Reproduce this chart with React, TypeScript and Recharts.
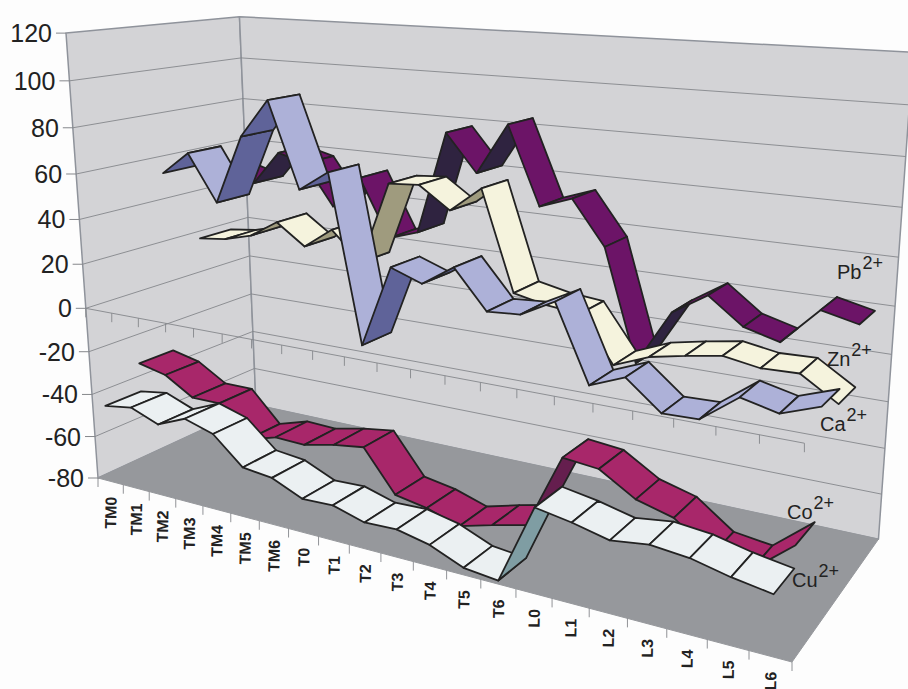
import { ScatterChart, Scatter, XAxis, YAxis } from 'recharts'

const CATEGORIES = ['TM0', 'TM1', 'TM2', 'TM3', 'TM4', 'TM5', 'TM6', 'T0', 'T1', 'T2', 'T3', 'T4', 'T5', 'T6', 'L0', 'L1', 'L2', 'L3', 'L4', 'L5', 'L6']
const VALUE_TICKS = [-80, -60, -40, -20, 0, 20, 40, 60, 80, 100, 120]

const PB = [47.5, 43.5, 59.5, 56, 37, 52, 25.5, 30, 76.5, 60, 82.5, 48.5, 53.5, 34.5, -14, 10.5, 20, 9, 5, 20.5, 17]
const ZN = [19, 20.5, 24, 32, 22.5, 32, 19, 56, 57, 47.5, 58.5, 15.5, 12.5, 11, -8.5, -2.5, 0.5, 3, 0.5, 1, -8.5]
const CA = [54, 64.5, 43.5, 74.5, 91.5, 54, 63, -11, 25.5, 20.5, 29.5, 13, 14, 21.5, -10.5, -4.5, -16.5, -16, -4.5, -8, -2.5]
const CO = [-30.5, -33.5, -41.5, -41.5, -55.5, -51.5, -52, -49, -47, -65, -67.5, -72, -68, -64.5, -33, -34.5, -43.5, -47.5, -58.5, -60.5, -47.5]
const CU = [-44, -42, -47, -41.5, -45.5, -57.5, -59, -65, -64.5, -68.5, -68, -71, -77, -78.5, -45, -47.5, -51, -49, -50.5, -54, -56.5]

const WIDTH = 908
const HEIGHT = 689
const GRID = '#85878b'
const INK = '#222'
const FONT = 'Liberation Sans'

// back row first, so the nearer ribbons paint over the farther ones
const SERIES = [
  { name: 'Pb', values: PB, depth: 0.8, top: '#6c1467', under: '#2f2340', label: [837, 279] },
  { name: 'Zn', values: ZN, depth: 0.6, top: '#f5f3dd', under: '#9f9b7e', label: [827, 366] },
  { name: 'Ca', values: CA, depth: 0.4, top: '#adb1d8', under: '#5f6399', label: [820, 431] },
  { name: 'Co', values: CO, depth: 0.2, top: '#a8276a', under: '#651e4e', label: [787, 519] },
  { name: 'Cu', values: CU, depth: 0, top: '#ebf0f2', under: '#7f9da3', label: [792, 587] },
]

// Perspective of the chart box: homography of the floor plus a vanishing point for the verticals
const FL = [98, 478]
const FR = [792, 662]
const BL = [256, 405]
const NADIR = [492, 5957]
const KAPPA = -0.0751
const G = -0.243
const H = 0.1487

type Pt = { x: number; y: number }

function project(t: number, d: number, value: number): Pt {
  const w = 1 + G * t + H * d
  const fx = ((FR[0] - FL[0] + G * FR[0]) * t + (BL[0] - FL[0] + H * BL[0]) * d + FL[0]) / w
  const fy = ((FR[1] - FL[1] + G * FR[1]) * t + (BL[1] - FL[1] + H * BL[1]) * d + FL[1]) / w
  const v = (value + 80) / 200
  const s = (v * KAPPA) / (w + 0.005 * t * d + v * KAPPA)
  return { x: fx + s * (NADIR[0] - fx), y: fy + s * (NADIR[1] - fy) }
}

const slot = (i: number) => (i + 0.5) / CATEGORIES.length

const NoDot = () => null

// A closed face or an open line, drawn by a Scatter through the chart's scales
function path(key: string, pts: Pt[], fill: string, stroke: string, width: number, closed = true) {
  return (
    <Scatter
      key={key}
      data={pts}
      xAxisId="sx"
      yAxisId="sy"
      shape={NoDot}
      isAnimationActive={false}
      line={(p: any) => {
        const s = p.points.map((q: any) => `${q.x},${q.y}`).join(' ')
        return closed
          ? <polygon points={s} fill={fill} stroke={stroke} strokeWidth={width} strokeLinejoin="round" />
          : <polyline points={s} fill="none" stroke={stroke} strokeWidth={width} />
      }}
    />
  )
}

function ribbons() {
  const out: any[] = []
  for (const s of SERIES) {
    for (let i = 0; i < s.values.length - 1; i++) {
      const a = project(slot(i), s.depth, s.values[i])
      const b = project(slot(i), s.depth + 0.2, s.values[i])
      const c = project(slot(i + 1), s.depth + 0.2, s.values[i + 1])
      const e = project(slot(i + 1), s.depth, s.values[i + 1])
      // segments that climb steeply show their underside
      const facing = (b.x - a.x) * (e.y - a.y) - (b.y - a.y) * (e.x - a.x)
      out.push(path(`${s.name}${i}`, [a, b, c, e], facing < 0 ? s.under : s.top, INK, 1.8))
    }
  }
  return out
}

function ValueTick({ cx, cy, payload }: any) {
  return (
    <g>
      <line x1={cx - 10} x2={cx} y1={cy} y2={cy} stroke={GRID} />
      <text x={cx - 14} y={cy + 9} textAnchor="end" fontSize={25} fontFamily={FONT} fill={INK}>{payload.label}</text>
    </g>
  )
}

function CategoryLabel({ cx, cy, payload }: any) {
  return (
    <text transform={`translate(${cx + 6},${cy + 15.5}) rotate(-89)`} textAnchor="end" fontSize={16} fontWeight="bold" fontFamily={FONT} fill={INK}>
      {payload.label}
    </text>
  )
}

function SeriesLabel({ cx, cy, payload }: any) {
  return (
    <text x={cx} y={cy} fontSize={20} fontFamily={FONT} fill={INK}>
      {payload.label}
      <tspan dy={-10} dx={1} fontSize={18}>2+</tspan>
    </text>
  )
}

export default function App() {
  const edges = Array.from({ length: CATEGORIES.length + 1 }, (_, k) => k / CATEGORIES.length)
  return (
    <div style={{ position: 'absolute', left: 0, top: 0, width: WIDTH, height: HEIGHT, background: '#fdfdfd' }}>
      <ScatterChart width={WIDTH} height={HEIGHT} margin={{ top: 0, right: 0, bottom: 0, left: 0 }}>
        <XAxis xAxisId="sx" type="number" dataKey="x" domain={[0, WIDTH]} hide allowDataOverflow />
        <YAxis yAxisId="sy" type="number" dataKey="y" domain={[0, HEIGHT]} reversed hide allowDataOverflow />

        {path('wall-left', [project(0, 0, -80), project(0, 1, -80), project(0, 1, 120), project(0, 0, 120)], '#d3d3d6', '#8f939b', 1.5)}
        {path('wall-back', [project(0, 1, -80), project(1, 1, -80), project(1, 1, 120), project(0, 1, 120)], '#d3d3d6', '#8f939b', 1.5)}
        {path('floor', [project(0, 0, -80), project(1, 0, -80), project(1, 1, -80), project(0, 1, -80)], '#96989c', '#96989c', 1)}
        {VALUE_TICKS.slice(1, -1).map((v) => path(`grid${v}`, [project(0, 0, v), project(0, 1, v), project(1, 1, v)], 'none', GRID, 0.9, false))}

        {/* category axis crossing at zero, and the tick marks along the floor edge */}
        {path('zero', [project(0, 0, 0), project(1, 0, 0)], 'none', GRID, 0.9, false)}
        {edges.map((t) => {
          const p = project(t, 0, 0)
          return path(`zero${t}`, [p, { x: p.x, y: p.y + 9 }], 'none', GRID, 0.9, false)
        })}
        {edges.map((t) => {
          const p = project(t, 0, -80)
          return path(`edge${t}`, [p, { x: p.x, y: p.y + 9 }], 'none', GRID, 0.9, false)
        })}

        {ribbons()}

        <Scatter
          xAxisId="sx"
          yAxisId="sy"
          isAnimationActive={false}
          shape={CategoryLabel}
          data={CATEGORIES.map((label, i) => ({ ...project(slot(i), 0, -80), label }))}
        />
        <Scatter
          xAxisId="sx"
          yAxisId="sy"
          isAnimationActive={false}
          shape={SeriesLabel}
          data={SERIES.map((s) => ({ x: s.label[0], y: s.label[1], label: s.name }))}
        />
        <Scatter
          xAxisId="sx"
          yAxisId="sy"
          isAnimationActive={false}
          shape={ValueTick}
          data={VALUE_TICKS.map((v) => ({ ...project(0, 0, v), label: v }))}
        />
      </ScatterChart>
    </div>
  )
}
